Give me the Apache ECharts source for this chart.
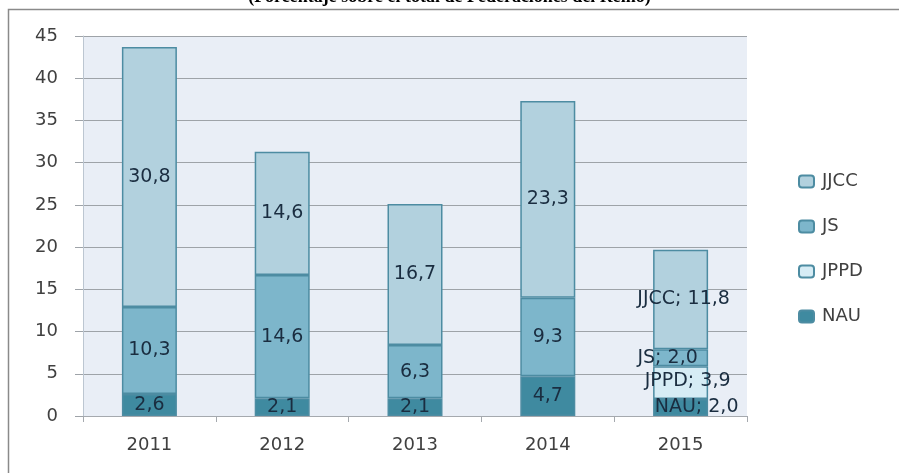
<!DOCTYPE html>
<html>
<head>
<meta charset="utf-8">
<script src="https://cdn.jsdelivr.net/npm/echarts@6/dist/echarts.min.js"></script>
<style>
  html, body { margin: 0; padding: 0; background: #ffffff; }
  #chart { width: 899px; height: 473px; }
</style>
</head>
<body>
<div id="chart"></div>
<script>
// Years on the category axis
var years = ['2011', '2012', '2013', '2014', '2015'];

// Percentage of all federations, per group (stacked bottom to top: NAU, JPPD, JS, JJCC)
var nau  = [2.6, 2.1, 2.1, 4.7, 2.0];
var jppd = [null, null, null, null, 3.9];
var js   = [10.3, 14.6, 6.3, 9.3, 2.0];
var jjcc = [30.8, 14.6, 16.7, 23.3, 11.8];

// Value axis ticks
var yMin = 0, yMax = 45, yStep = 5;

// Legend order
var legendOrder = ['JJCC', 'JS', 'JPPD', 'NAU'];

var FONT = 'DejaVu Sans';
var colors = { NAU: '#3f8aa0', JPPD: '#d6ecf5', JS: '#7db6cb', JJCC: '#b2d1de' };
var lastOffsets = { NAU: [16, 0], JPPD: [7, -2], JS: [-13, 0], JJCC: [3, 0] };

function fmt(v) { return v.toFixed(1).replace('.', ','); }

function makeSeries(name, values) {
  return {
    name: name,
    type: 'bar',
    stack: 'total',
    barWidth: 55,
    itemStyle: { color: colors[name], borderColor: '#4d8ca2', borderWidth: 1.5 },
    label: {
      show: true,
      position: 'inside',
      fontFamily: FONT,
      fontSize: 19,
      color: '#1a2d40',
      formatter: function (p) { return fmt(p.value); }
    },
    data: values.map(function (v, i) {
      if (i === years.length - 1 && v != null) {
        return {
          value: v,
          label: {
            offset: lastOffsets[name],
            formatter: function (p) { return name + '; ' + fmt(p.value); }
          }
        };
      }
      return v;
    })
  };
}

var chart = echarts.init(document.getElementById('chart'));
chart.setOption({
  animation: false,
  backgroundColor: '#ffffff',
  graphic: [
    {
      type: 'rect',
      shape: { x: 8.5, y: 9.5, width: 1000, height: 1000 },
      style: { fill: 'none', stroke: '#8a8a8a', lineWidth: 1.5 },
      silent: true
    },
    {
      type: 'text',
      left: 'center',
      top: -12,
      style: {
        text: '(Porcentaje sobre el total de Federaciones del Reino)',
        font: 'bold 18px "Liberation Serif"',
        fill: '#000000'
      }
    }
  ],
  grid: {
    left: 83, right: 152, top: 36, bottom: 57,
    show: true, backgroundColor: '#e9eef6', borderWidth: 0
  },
  legend: {
    orient: 'vertical',
    left: 793,
    top: 167,
    data: legendOrder,
    itemWidth: 15,
    itemHeight: 12,
    itemGap: 26,
    textStyle: { fontFamily: FONT, fontSize: 18, color: '#404040', lineHeight: 19, padding: [0, 0, 0, 3] }
  },
  xAxis: {
    type: 'category',
    data: years,
    axisLine: { show: true, lineStyle: { color: '#a5a9ae', width: 1 } },
    axisTick: { show: true, length: 6, lineStyle: { color: '#a5a9ae' } },
    axisLabel: { fontFamily: FONT, fontSize: 18, color: '#404040', margin: 20 }
  },
  yAxis: {
    type: 'value',
    min: yMin, max: yMax, interval: yStep,
    axisLine: { show: true, lineStyle: { color: '#bcc6d1', width: 1 } },
    axisTick: { show: true, length: 8, lineStyle: { color: '#9ea3a8' } },
    splitLine: { show: true, lineStyle: { color: '#9ea3a8', width: 1 } },
    axisLabel: { fontFamily: FONT, fontSize: 18, color: '#404040', margin: 25 }
  },
  series: [
    makeSeries('NAU', nau),
    makeSeries('JPPD', jppd),
    makeSeries('JS', js),
    makeSeries('JJCC', jjcc)
  ]
});
</script>
</body>
</html>
